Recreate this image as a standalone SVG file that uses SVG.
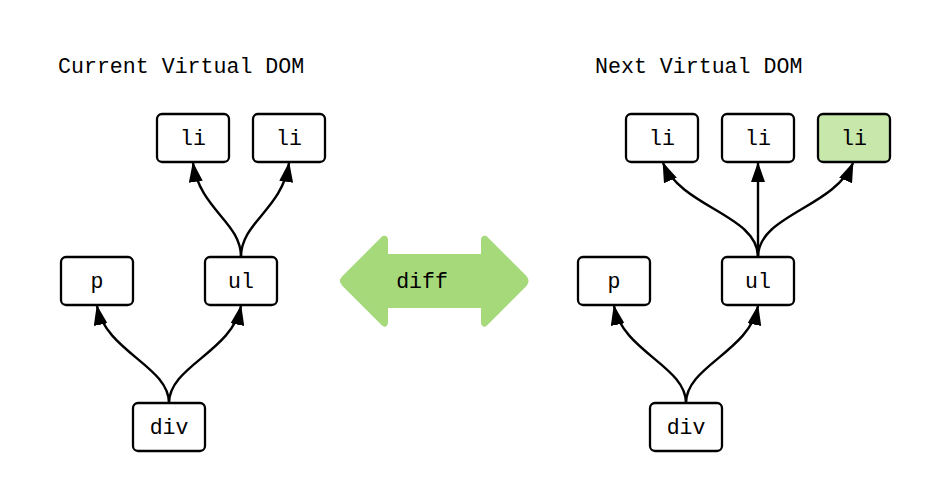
<svg xmlns="http://www.w3.org/2000/svg" width="934" height="487" viewBox="0 0 934 487">
<style>
.box{fill:#fff;stroke:#000;stroke-width:2.3}
.new{fill:#c7e8aa}
.lbl{font-family:"Liberation Mono",monospace;font-size:21.5px;fill:#000;text-anchor:middle}
.title{font-family:"Liberation Mono",monospace;font-size:21.6px;fill:#000}
.edge{fill:none;stroke:#000;stroke-width:2.4;marker-end:url(#ah)}
</style>
<defs>
<marker id="ah" viewBox="0 0 20 14" refX="19" refY="7" markerWidth="20" markerHeight="14" orient="auto" markerUnits="userSpaceOnUse">
<path d="M0,0 L20,7 L0,14 z" fill="#000"/>
</marker>
</defs>
<rect width="934" height="487" fill="#fff"/>
<text class="title" x="58" y="73">Current Virtual DOM</text>
<text class="title" x="595" y="73">Next Virtual DOM</text>
<g id="connectors">
<path class="edge" d="M169,403 C169,366 106,352 97,306"/>
<path class="edge" d="M169,403 C169,366 232,352 241,306"/>
<path class="edge" d="M241,257 C241,222 200,210 193,163"/>
<path class="edge" d="M241,257 C241,222 282,210 289,163"/>
<path class="edge" d="M686,403 C686,366 623,352 614,306"/>
<path class="edge" d="M686,403 C686,366 749,352 758,306"/>
<path class="edge" d="M758,257 C758,215 682,208 663,163"/>
<path class="edge" d="M758,257 L758,163"/>
<path class="edge" d="M758,257 C758,215 834,208 853,163"/>
</g>
<g id="diff">
<path d="M383,237 Q386,236 387,239 L387,255 L482,255 L482,239 Q483,236 486,237 L526,277 Q529,281 526,285 L486,325 Q483,327 482,323 L482,307 L387,307 L387,323 Q386,327 383,325 L343,285 Q339,281 343,277 Z" fill="#a6d97a" stroke="#a6d97a" stroke-width="2" stroke-linejoin="round"/>
<text class="lbl" x="422" y="288">diff</text>
</g>
<g id="cur-li1"><rect class="box" x="157" y="114" width="72" height="48" rx="5"/><text class="lbl" x="193" y="145">li</text></g>
<g id="cur-li2"><rect class="box" x="253" y="114" width="72" height="48" rx="5"/><text class="lbl" x="289" y="145">li</text></g>
<g id="cur-p"><rect class="box" x="61" y="257" width="72" height="48" rx="5"/><text class="lbl" x="97" y="288">p</text></g>
<g id="cur-ul"><rect class="box" x="205" y="257" width="72" height="48" rx="5"/><text class="lbl" x="241" y="288">ul</text></g>
<g id="cur-div"><rect class="box" x="133" y="403" width="72" height="48" rx="5"/><text class="lbl" x="169" y="434">div</text></g>
<g id="next-li1"><rect class="box" x="626" y="114" width="72" height="48" rx="5"/><text class="lbl" x="662" y="145">li</text></g>
<g id="next-li2"><rect class="box" x="722" y="114" width="72" height="48" rx="5"/><text class="lbl" x="758" y="145">li</text></g>
<g id="next-li3"><rect class="box new" x="818" y="114" width="72" height="48" rx="5"/><text class="lbl" x="854" y="145">li</text></g>
<g id="next-p"><rect class="box" x="578" y="257" width="72" height="48" rx="5"/><text class="lbl" x="614" y="288">p</text></g>
<g id="next-ul"><rect class="box" x="722" y="257" width="72" height="48" rx="5"/><text class="lbl" x="758" y="288">ul</text></g>
<g id="next-div"><rect class="box" x="650" y="403" width="72" height="48" rx="5"/><text class="lbl" x="686" y="434">div</text></g>
</svg>
